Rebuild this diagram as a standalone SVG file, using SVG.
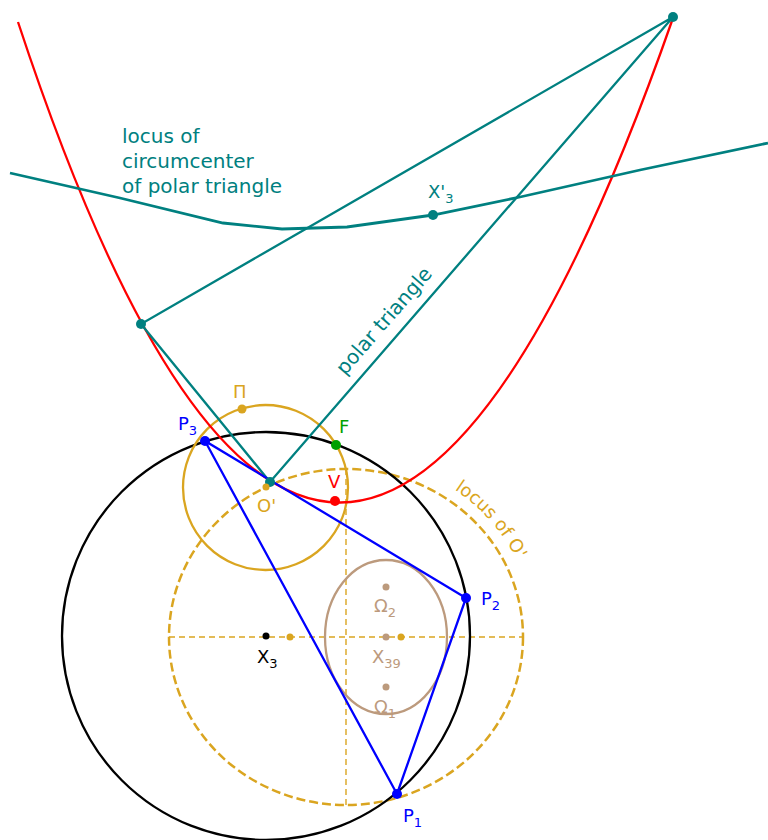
<svg xmlns="http://www.w3.org/2000/svg" width="768" height="840" viewBox="0 0 768 840">
<style>
text{font-family:"DejaVu Sans","Liberation Sans",sans-serif;font-size:18px}
.big{font-size:20px}
.teal{fill:#008080}.gold{fill:#DAA520}.tan{fill:#BC9A7D}.blue{fill:#0000FF}.red{fill:#FF0000}.green{fill:#00A000}.blk{fill:#000}
.ln{fill:none;stroke-width:2.3}
.sub{font-size:13px}
</style>
<defs>
<path id="arcO" d="M 454.4 489.5 A 189 180 0 0 1 535 637"/>
</defs>
<g id="connectors">
<g id="axes" fill="none" stroke="#DAA520" stroke-width="1.4" stroke-dasharray="6 4">
<line x1="169" y1="637" x2="523" y2="637"/>
<line x1="346" y1="469" x2="346" y2="805"/>
</g>
<ellipse id="locusO" cx="346" cy="637" rx="177" ry="168" fill="none" stroke="#DAA520" stroke-width="2.5" stroke-dasharray="9 4"/>
<circle id="circumcircle" cx="266" cy="636" r="204" class="ln" stroke="#000"/>
<ellipse id="brocardEllipse" cx="386" cy="637" rx="61" ry="77" class="ln" stroke="#BC9A7D" stroke-width="2.5"/>
<circle id="piCircle" cx="265.5" cy="487.5" r="82.5" class="ln" stroke="#DAA520"/>
<path id="parabola" d="M 18 22 Q 335 985 673 18" class="ln" stroke="#FF0000"/>
<polyline id="locusCirc" points="10,173 120,198 223,223 282,229 347,227 433,215 520,197 640,170 768,143" fill="none" stroke="#008080" stroke-width="2.8"/>
<polygon id="polarTriangle" points="673,17 141,324 270,482" class="ln" stroke="#008080"/>
<polygon id="triangle" points="397,794 466,598 205,441" class="ln" stroke="#0000FF" stroke-width="2.5"/>
</g>
<g id="labelsText">
<text class="teal big" x="122" y="143">locus of</text>
<text class="teal big" x="122" y="168">circumcenter</text>
<text class="teal big" x="122" y="193">of polar triangle</text>
<text class="teal big" transform="translate(345,376) rotate(-49)">polar triangle</text>
<text class="gold" font-size="19"><textPath href="#arcO">locus of O'</textPath></text>
</g>
<g id="A"><circle cx="673" cy="17" r="5" class="teal"/></g>
<g id="B"><circle cx="141" cy="324" r="5" class="teal"/></g>
<g id="C"><circle cx="270" cy="482" r="5" class="teal"/></g>
<g id="X3p"><circle cx="433" cy="215" r="5" class="teal"/><text class="teal" x="428" y="198">X'<tspan class="sub" dy="5">3</tspan></text></g>
<g id="Pi"><circle cx="242" cy="409" r="4.5" class="gold"/><text class="gold" x="233" y="398">Π</text></g>
<g id="F"><circle cx="336" cy="445" r="5" class="green"/><text class="green" x="339" y="433">F</text></g>
<g id="V"><circle cx="335" cy="501" r="5" class="red"/><text class="red" x="328" y="488">V</text></g>
<g id="Oprime"><circle cx="266" cy="487" r="3.5" class="gold"/><text class="gold" x="257" y="512">O'</text></g>
<g id="P1"><circle cx="397" cy="794" r="5" class="blue"/><text class="blue" x="403" y="822">P<tspan class="sub" dy="5">1</tspan></text></g>
<g id="P2"><circle cx="466" cy="598" r="5" class="blue"/><text class="blue" x="481" y="605">P<tspan class="sub" dy="5">2</tspan></text></g>
<g id="P3"><circle cx="205" cy="441" r="5" class="blue"/><text class="blue" x="178" y="430">P<tspan class="sub" dy="5">3</tspan></text></g>
<g id="X3"><circle cx="266" cy="636" r="3.5" class="blk"/><text class="blk" x="257" y="663">X<tspan class="sub" dy="5">3</tspan></text></g>
<g id="goldL"><circle cx="290" cy="637" r="3.5" class="gold"/></g>
<g id="goldR"><circle cx="401" cy="637" r="3.5" class="gold"/></g>
<g id="Omega2"><circle cx="386" cy="587" r="3.5" class="tan"/><text class="tan" x="374" y="612">Ω<tspan class="sub" dy="5">2</tspan></text></g>
<g id="X39"><circle cx="386" cy="637" r="3.5" class="tan"/><text class="tan" x="372" y="663">X<tspan class="sub" dy="5">39</tspan></text></g>
<g id="Omega1"><circle cx="386" cy="687" r="3.5" class="tan"/><text class="tan" x="374" y="713">Ω<tspan class="sub" dy="5">1</tspan></text></g>
</svg>
